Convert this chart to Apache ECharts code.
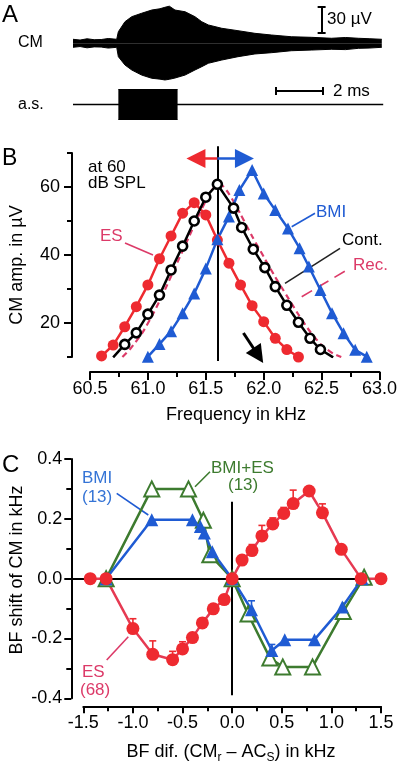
<!DOCTYPE html>
<html>
<head>
<meta charset="utf-8">
<script src="https://cdn.jsdelivr.net/npm/echarts@6.0.0/dist/echarts.min.js"></script>
<style>html,body{margin:0;padding:0;background:#fff;}#chart{width:400px;height:763px;}</style>
</head>
<body>
<div id="chart"></div>
<script>
// ---------- Panel A: CM response envelope (time in ms, amplitude in µV) ----------
const cmTime  = [0, 0.3, 0.6, 0.9, 1.2, 1.5, 1.86, 1.93, 2.0, 2.21, 2.5, 2.92, 3.35, 3.7, 3.91, 4.1, 4.34, 4.77, 5.19, 5.48, 5.76, 6.33, 7.02, 7.74, 8.45, 9.29, 10.16, 11.0, 11.6, 12.14, 12.6, 13.14];
const cmUpper = [4.7, 3.8, 5.3, 4.2, 4.4, 5.6, 4.7, 13.6, 15.6, 25.3, 31.2, 35.2, 39.0, 40.5, 42.2, 43.5, 39.0, 37.0, 31.2, 25.3, 21.5, 17.6, 14.8, 11.7, 9.7, 7.7, 7.0, 5.9, 6.8, 5.9, 5.4, 4.7];
const cmLower = [-4.7, -3.8, -5.3, -4.2, -4.4, -5.6, -4.7, -15.7, -15.7, -25.4, -31.3, -37.2, -41.0, -42.0, -43.0, -42.2, -40.7, -37.2, -31.3, -27.4, -23.4, -19.6, -15.7, -12.5, -11.0, -8.7, -7.9, -7.0, -7.4, -5.9, -5.6, -4.7];
// acoustic stimulus (a.s.), arbitrary units
const asTime = [0, 13.2];
const asLevel = [0, 0];
const asBurstTime = [1.93, 4.45];
const asBurstHigh = [1, 1];
const asBurstLow = [-1, -1];
// scale bars
const scaleBarAmp = 30;  // µV
const scaleBarTime = 2;  // ms

// ---------- Panel B: CM amplitude vs frequency ----------
const freqES = [60.6, 60.7, 60.8, 60.9, 61.0, 61.1, 61.2, 61.3, 61.4, 61.5, 61.6, 61.7, 61.8, 61.9, 62.0, 62.1, 62.2, 62.3];
const ampES  = [10.3, 13.5, 18.9, 24.8, 31.2, 38.9, 45.6, 52.3, 55.4, 51.8, 44.4, 37.6, 31.2, 25.1, 20.4, 15.5, 12.2, 10.0];
const freqCont = [60.7, 60.8, 60.9, 61.0, 61.1, 61.2, 61.3, 61.4, 61.5, 61.6, 61.74, 61.81, 61.91, 62.01, 62.1, 62.2, 62.3, 62.4, 62.49, 62.6];
const ampCont  = [9.9, 13.7, 17.1, 22.6, 28.2, 35.6, 42.6, 50.0, 57.0, 60.8, 53.8, 48.1, 41.7, 36.3, 30.7, 25.2, 20.2, 15.5, 12.2, 9.9];
const freqBMI = [61.0, 61.1, 61.2, 61.3, 61.4, 61.5, 61.6, 61.7, 61.79, 61.9, 62.0, 62.1, 62.21, 62.31, 62.39, 62.49, 62.59, 62.69, 62.79, 62.89];
const ampBMI  = [10.1, 13.8, 17.6, 22.9, 28.7, 36.0, 44.6, 51.3, 59.1, 65.0, 58.1, 53.2, 47.8, 42.0, 36.6, 29.7, 22.9, 17.0, 12.1, 10.1];
const freqRec = [60.78, 60.85, 60.95, 61.05, 61.15, 61.25, 61.35, 61.45, 61.55, 61.62, 61.7, 61.8, 61.9, 62.0, 62.1, 62.2, 62.3, 62.4, 62.5, 62.6, 62.67];
const ampRec  = [10.0, 12.5, 17.0, 23.0, 30.0, 37.5, 45.0, 52.5, 59.0, 61.0, 58.0, 52.0, 45.5, 39.5, 33.5, 28.0, 22.5, 17.5, 13.5, 11.0, 10.0];
const yTicksB = [20, 40, 60];

// ---------- Panel C: BF shift vs BF difference ----------
const esDiff  = [-1.43, -1.27, -1.0, -0.8, -0.6, -0.5, -0.4, -0.3, -0.19, -0.08, 0, 0.1, 0.2, 0.3, 0.41, 0.52, 0.615, 0.776, 0.91, 1.1, 1.3, 1.5];
const esShift = [0, 0, -0.167, -0.253, -0.271, -0.235, -0.197, -0.148, -0.101, -0.07, 0, 0.062, 0.094, 0.143, 0.183, 0.218, 0.251, 0.293, 0.22, 0.098, 0, 0];
const esErr   = [0, 0, 0.033, 0.045, 0.028, 0.024, 0.015, 0.015, 0.015, 0.015, 0, 0.015, 0.02, 0.035, 0.02, 0.02, 0.045, 0.01, 0.03, 0.01, 0, 0];
const bmiDiff  = [-1.27, -0.81, -0.40, -0.32, -0.28, -0.20, 0, 0.195, 0.40, 0.53, 0.83, 1.11, 1.31];
const bmiShift = [0, 0.197, 0.197, 0.174, 0.153, 0.09, 0, -0.104, -0.24, -0.204, -0.204, -0.095, 0];
const bmiErr   = [0, 0, 0, 0, 0, 0, 0, 0.03, 0.02, 0, 0, 0, 0];
const bmiEsDiff  = [-1.27, -0.81, -0.44, -0.29, -0.225, 0, 0.16, 0.38, 0.51, 0.81, 1.12, 1.33];
const bmiEsShift = [0, 0.3, 0.3, 0.195, 0.08, 0, -0.118, -0.265, -0.295, -0.295, -0.11, 0.005];

// ---------- styling ----------
const FONT = "'Liberation Sans', Arial, Helvetica, sans-serif";
const RED = '#ee2a30', PINK = '#dc3a68', BLUE = '#1f5bd3', BLUE2 = '#3574d6', GREEN = '#3d7b2f', RLINE = '#e63a52';
const zip = (a, b) => a.map((v, i) => [v, b[i]]);
const fmt1 = v => (Math.abs(v) < 1e-9 ? 0 : v).toFixed(1);
const blackLine = { color: '#000', width: 2 };

function hiddenAxis(grid, min, max) {
  return { gridIndex: grid, type: 'value', min, max, show: false, splitLine: { show: false } };
}
function shownAxis(extra) {
  return Object.assign({
    type: 'value',
    axisLine: { show: true, onZero: false, lineStyle: blackLine },
    axisTick: { show: true, length: 8, lineStyle: blackLine },
    minorTick: { show: true, splitNumber: 2, length: 5, lineStyle: blackLine },
    splitLine: { show: false },
    minorSplitLine: { show: false },
    axisLabel: { color: '#000', fontSize: 18, fontFamily: FONT }
  }, extra);
}
function T(x, y, text, size, color, align) {
  return { type: 'text', x, y, silent: true, style: { text, fontSize: size, fontFamily: FONT, fill: color || '#000',
    align: align || 'left', verticalAlign: 'middle', textAlign: align || 'left', textVerticalAlign: 'middle' } };
}
function R(x, y, text, size) {
  return { type: 'text', x, y, rotation: Math.PI / 2, silent: true, style: { text, fontSize: size, fontFamily: FONT, fill: '#000',
    align: 'center', verticalAlign: 'middle', textAlign: 'center', textVerticalAlign: 'middle' } };
}
function L(x1, y1, x2, y2, color, dash) {
  return { type: 'line', silent: true, shape: { x1, y1, x2, y2 }, style: { stroke: color, lineWidth: 1.6, lineDash: dash || null } };
}
function segs(xi, yi, list, color, width, extra) {
  return Object.assign({ type: 'lines', coordinateSystem: 'cartesian2d', xAxisIndex: xi, yAxisIndex: yi, clip: false,
    silent: true, lineStyle: { color, width, opacity: 1, curveness: 0 }, data: list.map(c => ({ coords: c })) }, extra || {});
}
function errBars(xi, yi, xs, ys, es, color) {
  return { type: 'custom', xAxisIndex: xi, yAxisIndex: yi, silent: true, clip: false,
    data: xs.map((x, i) => [x, ys[i], es[i]]),
    renderItem(params, api) {
      const x = api.value(0), y = api.value(1), e = api.value(2);
      if (!e) return null;
      const p0 = api.coord([x, y]), p1 = api.coord([x, y + e]);
      return { type: 'group', children: [
        { type: 'line', shape: { x1: p0[0], y1: p0[1], x2: p1[0], y2: p1[1] }, style: { stroke: color, lineWidth: 1.6 } },
        { type: 'line', shape: { x1: p1[0] - 3.5, y1: p1[1], x2: p1[0] + 3.5, y2: p1[1] }, style: { stroke: color, lineWidth: 1.6 } }
      ] };
    } };
}

const barT = 10.58, barLow = 12.9, capA = 0.17;
const tBarStart = 8.64, tBarLevel = 0.9, capT = 0.27;

const option = {
  animation: false,
  backgroundColor: '#fff',
  grid: [
    { left: 73, top: 0.65, width: 310.2, height: 85.3 },
    { left: 73, top: 74.5, width: 310.2, height: 60 },
    { left: 90, top: 153, width: 293, height: 204 },
    { left: 83.3, top: 459, width: 297.7, height: 239.3 }
  ],
  xAxis: [
    hiddenAxis(0, 0, 13.2),
    hiddenAxis(1, 0, 13.2),
    shownAxis({ gridIndex: 2, min: 60.5, max: 63.0, interval: 0.5, offset: 15, position: 'bottom',
      axisLabel: { color: '#000', fontSize: 18, fontFamily: FONT, margin: 8, formatter: fmt1 } }),
    shownAxis({ gridIndex: 3, min: -1.5, max: 1.5, interval: 0.5, offset: 8, position: 'bottom',
      axisTick: { show: true, length: 7, lineStyle: blackLine },
      axisLabel: { color: '#000', fontSize: 18, fontFamily: FONT, margin: 8, formatter: fmt1 } })
  ],
  yAxis: [
    hiddenAxis(0, -50, 50),
    hiddenAxis(1, -2, 2),
    shownAxis({ gridIndex: 2, min: 10, max: 70, interval: 10, offset: 18, position: 'left',
      axisTick: { show: true, length: 5, lineStyle: blackLine }, minorTick: { show: false },
      axisLabel: { color: '#000', fontSize: 18, fontFamily: FONT, margin: 12,
        formatter: v => (yTicksB.indexOf(Math.round(v)) >= 0 ? String(Math.round(v)) : '') } }),
    shownAxis({ gridIndex: 3, min: -0.4, max: 0.4, interval: 0.2, offset: 12, position: 'left',
      axisTick: { show: true, length: 7, lineStyle: blackLine },
      axisLabel: { color: '#000', fontSize: 18, fontFamily: FONT, margin: 9, formatter: fmt1 } }),
    { gridIndex: 2, type: 'value', min: 10, max: 70, offset: 18, position: 'left',
      axisLine: { show: false }, splitLine: { show: false }, axisLabel: { show: false },
      axisTick: { show: true, length: 8, lineStyle: blackLine, customValues: yTicksB } }
  ],
  series: [
    // ----- Panel A -----
    { type: 'line', xAxisIndex: 0, yAxisIndex: 0, data: zip(cmTime, cmUpper), symbol: 'none', silent: true,
      lineStyle: { color: '#000', width: 1 }, areaStyle: { color: '#000', opacity: 1 } },
    { type: 'line', xAxisIndex: 0, yAxisIndex: 0, data: zip(cmTime, cmLower), symbol: 'none', silent: true,
      lineStyle: { color: '#000', width: 1 }, areaStyle: { color: '#000', opacity: 1 } },
    { type: 'line', xAxisIndex: 1, yAxisIndex: 1, data: zip(asTime, asLevel), symbol: 'none', silent: true,
      lineStyle: { color: '#000', width: 1.5 } },
    { type: 'line', xAxisIndex: 1, yAxisIndex: 1, data: zip(asBurstTime, asBurstHigh), symbol: 'none', silent: true,
      lineStyle: { color: '#000', width: 1 }, areaStyle: { color: '#000', opacity: 1 } },
    { type: 'line', xAxisIndex: 1, yAxisIndex: 1, data: zip(asBurstTime, asBurstLow), symbol: 'none', silent: true,
      lineStyle: { color: '#000', width: 1 }, areaStyle: { color: '#000', opacity: 1 } },
    segs(0, 0, [
      [[barT, barLow], [barT, barLow + scaleBarAmp]],
      [[barT - capA, barLow], [barT + capA, barLow]],
      [[barT - capA, barLow + scaleBarAmp], [barT + capA, barLow + scaleBarAmp]]
    ], '#000', 2),
    segs(1, 1, [
      [[tBarStart, tBarLevel], [tBarStart + scaleBarTime, tBarLevel]],
      [[tBarStart, tBarLevel - capT], [tBarStart, tBarLevel + capT]],
      [[tBarStart + scaleBarTime, tBarLevel - capT], [tBarStart + scaleBarTime, tBarLevel + capT]]
    ], '#000', 2),

    // ----- Panel B -----
    segs(2, 2, [[[61.6, 72.0], [61.6, 8.8]]], '#000', 2),
    { type: 'line', xAxisIndex: 2, yAxisIndex: 2, data: zip(freqES, ampES), symbol: 'circle', symbolSize: 11,
      itemStyle: { color: RED }, lineStyle: { color: RED, width: 2.5 }, silent: true },
    { type: 'line', xAxisIndex: 2, yAxisIndex: 2, data: zip(freqRec, ampRec), symbol: 'none', smooth: 0.2,
      lineStyle: { color: PINK, width: 2.2, type: [6, 4] }, silent: true },
    { type: 'line', xAxisIndex: 2, yAxisIndex: 2, data: zip(freqBMI, ampBMI), symbol: 'triangle', symbolSize: 12,
      itemStyle: { color: BLUE }, lineStyle: { color: BLUE, width: 2.5 }, silent: true },
    { type: 'line', xAxisIndex: 2, yAxisIndex: 2, data: zip(freqCont, ampCont), symbol: 'circle', symbolSize: 9,
      itemStyle: { color: '#fff', borderColor: '#000', borderWidth: 2.6 }, lineStyle: { color: '#000', width: 2.5 }, silent: true },
    segs(2, 2, [[[61.6, 68.4], [61.415, 68.4]]], RED, 2.5, { symbol: ['none', 'triangle'], symbolSize: 19 }),
    segs(2, 2, [[[61.6, 68.4], [61.834, 68.4]]], BLUE, 2.5, { symbol: ['none', 'triangle'], symbolSize: 19 }),
    segs(2, 2, [[[61.825, 17.06], [61.953, 10.44]]], '#000', 3, { symbol: ['none', 'triangle'], symbolSize: 18 }),

    // ----- Panel C -----
    segs(3, 3, [[[-1.626, 0], [1.54, 0]], [[0, 0.257], [0, -0.39]]], '#000', 2),
    { type: 'line', xAxisIndex: 3, yAxisIndex: 3, data: zip(bmiEsDiff, bmiEsShift), symbol: 'triangle', symbolSize: 15,
      itemStyle: { color: '#fff', borderColor: GREEN, borderWidth: 2 }, lineStyle: { color: GREEN, width: 2.5 }, silent: true },
    errBars(3, 3, bmiDiff, bmiShift, bmiErr, BLUE),
    { type: 'line', xAxisIndex: 3, yAxisIndex: 3, data: zip(bmiDiff, bmiShift), symbol: 'triangle', symbolSize: 13,
      itemStyle: { color: BLUE }, lineStyle: { color: BLUE, width: 2.5 }, silent: true },
    errBars(3, 3, esDiff, esShift, esErr, RED),
    { type: 'line', xAxisIndex: 3, yAxisIndex: 3, data: zip(esDiff, esShift), symbol: 'circle', symbolSize: 13,
      itemStyle: { color: RED }, lineStyle: { color: RLINE, width: 2.5 }, silent: true }
  ],
  graphic: [
    T(2, 15, 'A', 24),
    T(18, 43, 'CM', 16),
    T(18, 105, 'a.s.', 16),
    T(327, 19, '30 µV', 17),
    T(333, 91, '2 ms', 17),

    T(2, 159, 'B', 23),
    T(88, 167, 'at 60', 17),
    T(88, 183.5, 'dB SPL', 17),
    T(100, 236, 'ES', 17, PINK),
    L(125, 243, 153, 255, PINK),
    T(316, 212, 'BMI', 17, BLUE),
    L(291.7, 226.7, 315, 213.3, BLUE),
    T(342, 240.5, 'Cont.', 17),
    L(285, 283.3, 340, 248.3, '#222'),
    T(353, 265, 'Rec.', 17, PINK),
    L(301.7, 296.7, 347, 270, PINK, [12, 7]),
    R(17, 265, 'CM amp. in µV', 18),
    T(236, 415, 'Frequency in kHz', 18, '#000', 'center'),

    T(2, 465, 'C', 24),
    T(82, 478, 'BMI', 17, BLUE2),
    T(82, 497, '(13)', 17, BLUE2),
    L(116.7, 493.3, 148.3, 515, BLUE),
    T(211, 468.5, 'BMI+ES', 17, GREEN),
    T(228, 485.5, '(13)', 17, GREEN),
    L(195, 486.7, 210, 471.7, GREEN),
    T(82, 672, 'ES', 17, PINK),
    T(80, 690, '(68)', 17, PINK),
    L(106.7, 660, 128.3, 636.7, PINK),
    R(17, 570, 'BF shift of CM in kHz', 18),
    { type: 'text', x: 231, y: 752, silent: true, style: {
      text: '{m|BF dif. (CM}{s|r}{m| – AC}{s|S}{m|) in kHz}',
      fill: '#000', fontFamily: FONT, fontSize: 18,
      align: 'center', verticalAlign: 'middle', textAlign: 'center', textVerticalAlign: 'middle',
      rich: {
        m: { fontSize: 18, fontFamily: FONT, fill: '#000', color: '#000', lineHeight: 24, verticalAlign: 'middle' },
        s: { fontSize: 12, fontFamily: FONT, fill: '#000', color: '#000', lineHeight: 12, verticalAlign: 'bottom' }
      } } }
  ]
};

const chart = echarts.init(document.getElementById('chart'), null, { renderer: 'canvas' });
chart.setOption(option);
</script>
</body>
</html>
